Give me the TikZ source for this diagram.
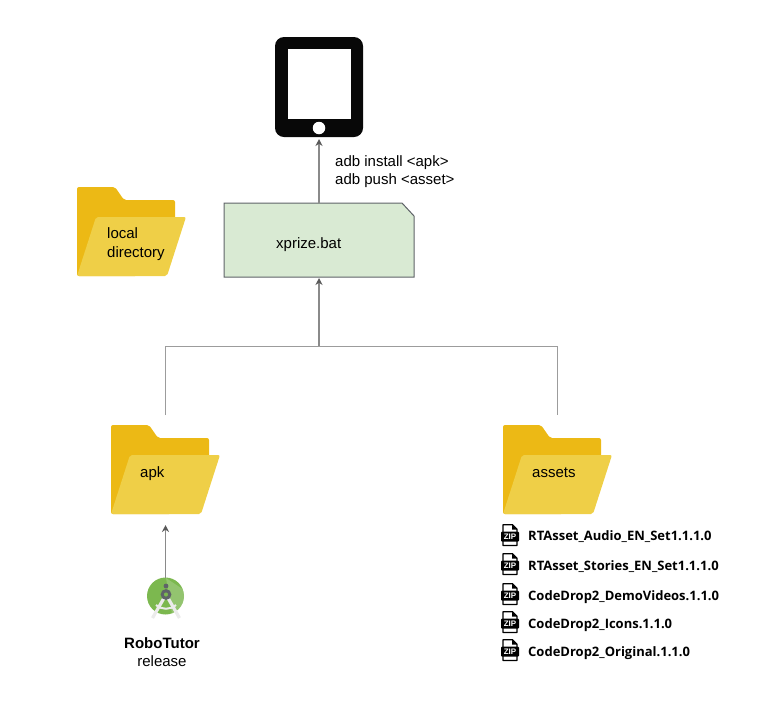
\documentclass[tikz,border=0pt]{standalone}
\usepackage{fontspec}
\setmainfont{Liberation Sans}
\newfontfamily\zipfont{Open Sans}
\usetikzlibrary{arrows.meta}
\definecolor{folderback}{HTML}{ECB915}
\definecolor{folderfront}{HTML}{EFCF47}
\definecolor{batfill}{HTML}{D9EAD3}
\definecolor{lineg}{HTML}{8A8A8A}
\definecolor{tipg}{HTML}{595959}
\definecolor{droid}{HTML}{7CB84F}
\definecolor{droiddark}{HTML}{5F6368}
\tikzset{
  conn/.style={draw=lineg,line width=1.3pt},
  busline/.style={draw=lineg!85!white,line width=1pt},
  arrow/.style={conn,-{Stealth[length=7pt,width=7pt,color=tipg]}},
  label/.style={anchor=base west,inner sep=0pt,font=\fontsize{15}{17}\selectfont,text=black},
  ziplabel/.style={anchor=base west,inner sep=0pt,font=\zipfont\bfseries\fontsize{13}{16}\selectfont,text=black},
  folderbox/.style={minimum width=109pt,minimum height=89pt,inner sep=0pt,outer sep=0pt},
}
\newcommand{\folder}[3]{% name, x, y of top-left corner
  \node[folderbox,anchor=north west] (#1) at (#2,#3) {};
  \begin{scope}[shift={(#2,#3)}]
    \fill[folderback,rounded corners=2pt] (0,89) -- (0,0) -- (38,0) -- (47,13) -- (98,13) -- (98,60) -- (60,89) -- cycle;
    \fill[folderfront,rounded corners=2pt] (0,89) -- (19,30) -- (109,30) -- (90,89) -- cycle;
  \end{scope}}
\newcommand{\zipicon}[3]{% name, x, y of top-left
  \node[minimum width=18pt,minimum height=22pt,inner sep=0pt,anchor=north west] (#1) at (#2,#3) {};
  \begin{scope}[shift={(#2,#3)}]
    \draw[black,line width=1.3pt,fill=white,line join=round] (2,21.4) -- (2,0.7) -- (11.5,0.7) -- (16,5.2) -- (16,21.4) -- cycle;
    \fill[black] (11,0.7) -- (16,5.7) -- (11,5.7) -- cycle;
    \fill[black,rounded corners=1pt] (0,7.5) rectangle (18,17.5);
    \node[inner sep=0pt,text=white,font=\bfseries\fontsize{8}{8}\selectfont] at (9,12.6) {ZIP};
  \end{scope}}
\begin{document}
\begin{tikzpicture}[x=1pt,y=-1pt]
\useasboundingbox (0,0) rectangle (775,721);
% tablet
\node[fill=black!97!white,rounded corners=9pt,minimum width=88pt,minimum height=100pt,inner sep=0pt,outer sep=0pt] (tablet) at (319,87) {};
\node[fill=white,minimum width=63pt,minimum height=70pt,inner sep=0pt] (screen) at (319.5,84) {};
\node[fill=white,circle,minimum size=12.5pt,inner sep=0pt] (homebtn) at (319,128) {};
% bat file
\node[minimum width=190pt,minimum height=74pt,inner sep=0pt,outer sep=0pt] (bat) at (319,240) {};
\path[fill=batfill,draw=droiddark,line width=1pt] (bat.south west) -- (bat.north west) -- ([xshift=-12pt]bat.north east) -- ([yshift=-13pt]bat.north east) -- (bat.south east) -- cycle;
\node[label] (battext) at (276,248) {xprize.bat};
% folders
\folder{localdir}{77}{187}
\folder{apk}{111}{425}
\folder{assets}{503}{425}
\node[label] (t1) at (107,238) {local};
\node[label] (t2) at (107,257) {directory};
\node[label] (t3) at (140,477) {apk};
\node[label] (t4) at (532,477) {assets};
\node[label] (cmd1) at (335,166) {adb install <apk>};
\node[label] (cmd2) at (335,184) {adb push <asset>};
% connectors
\coordinate (junction) at (319,346);
\draw[arrow,shorten >=2pt] (bat.north) -- (tablet.south);
\draw[busline,shorten <=10pt,shorten >=10pt] (apk.north) |- (junction) -| (assets.north);
\draw[arrow,shorten >=1pt] (junction) -- (bat.south);
% android icon
\node[circle,fill=droid,minimum size=37pt,inner sep=0pt,outer sep=0pt] (droid) at (165.5,596) {};
\begin{scope}
  \clip (165.5,596) circle (18.5);
  \fill[white!60!droid,opacity=.3] (166,578) -- (184,590) -- (184,614) -- (172,614) -- cycle;
\end{scope}
\draw[white!92!black,line width=3.2pt] (164,598) -- (152.5,618);
\draw[white!92!black,line width=3.2pt] (168,598) -- (179.5,618);
\draw[white!92!black,line width=2pt] (156,605) .. controls (162,610) and (170,610) .. (176,605);
\fill[droiddark] (166,586) circle (2.4);
\draw[droiddark,line width=3pt,fill=droid] (166,594.5) circle (3.8);
\draw[arrow,shorten >=11pt] (droid.north) -- (apk.south);
\node[inner sep=0pt,anchor=base,font=\bfseries\fontsize{15}{17}\selectfont] (robo) at (162,648) {RoboTutor};
\node[inner sep=0pt,anchor=base,font=\fontsize{15}{17}\selectfont] (rel) at (162,666) {release};
% zip list
\zipicon{z1}{501}{524}
\zipicon{z2}{501}{553}
\zipicon{z3}{501}{583}
\zipicon{z4}{501}{611}
\zipicon{z5}{501}{639}
\node[ziplabel] (l1) at (528,540) {RTAsset\_Audio\_EN\_Set1.1.1.0};
\node[ziplabel] (l2) at (528,570) {RTAsset\_Stories\_EN\_Set1.1.1.0};
\node[ziplabel] (l3) at (528,600) {CodeDrop2\_DemoVideos.1.1.0};
\node[ziplabel] (l4) at (528,628) {CodeDrop2\_Icons.1.1.0};
\node[ziplabel] (l5) at (528,656) {CodeDrop2\_Original.1.1.0};
\end{tikzpicture}
\end{document}
